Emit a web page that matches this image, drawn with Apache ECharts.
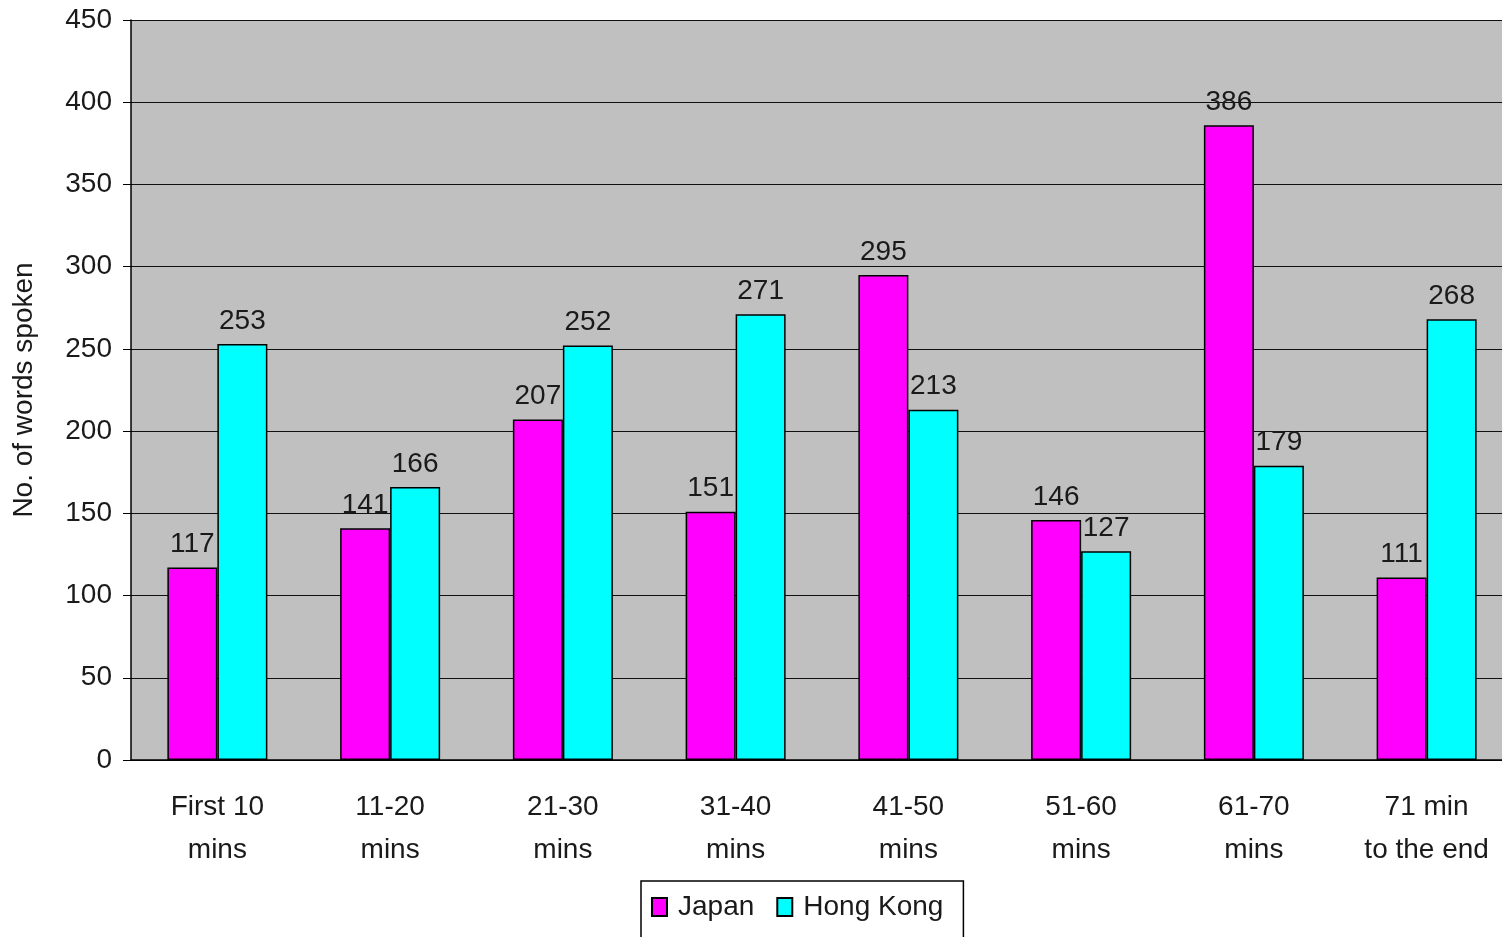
<!DOCTYPE html>
<html lang="en">
<head>
  <meta charset="UTF-8">
  <title>No. of words spoken</title>
  <style>
    body { margin: 0; background: #fff; }
    #main { width: 1502px; height: 937px; }
  </style>
</head>
<body>
<div id="main"></div>
<script src="https://cdn.jsdelivr.net/npm/echarts@6/dist/echarts.min.js"></script>
<script>
  // 类目与数据
  const categories = ['First 10\nmins', '11-20\nmins', '21-30\nmins', '31-40\nmins',
    '41-50\nmins', '51-60\nmins', '61-70\nmins', '71 min\nto the end'];
  const japan = [117, 141, 207, 151, 295, 146, 386, 111];
  const hongKong = [253, 166, 252, 271, 213, 127, 179, 268];

  const font = 'Liberation Sans, Arial, sans-serif';
  const chart = echarts.init(document.getElementById('main'));

  const barLabel = {
    show: true,
    position: 'top',
    distance: 9,
    color: '#1a1a1a',
    fontSize: 28,
    fontFamily: font
  };

  const option = {
    animation: false,
    grid: {
      left: 131,
      right: -11,
      top: 20,
      bottom: 177,
      outerBoundsMode: 'none',
      containLabel: false,
      show: true,
      backgroundColor: '#c0c0c0',
      borderWidth: 0
    },
    legend: {
      left: 641,
      top: 881,
      padding: [12, 20, 24, 10],
      borderColor: '#000',
      borderWidth: 1.5,
      itemWidth: 15,
      itemHeight: 18,
      itemGap: 22,
      icon: 'rect',
      textStyle: { fontSize: 28, color: '#1a1a1a', fontFamily: font, padding: [0, 0, 0, 6] },
      data: ['Japan', 'Hong Kong']
    },
    xAxis: {
      type: 'category',
      data: categories,
      axisLine: { lineStyle: { color: '#000', width: 1.5 } },
      axisTick: { length: 8, lineStyle: { color: '#000' } },
      axisLabel: {
        color: '#1a1a1a',
        fontSize: 28,
        fontFamily: font,
        lineHeight: 43,
        margin: 26
      }
    },
    yAxis: {
      type: 'value',
      min: 0,
      max: 450,
      interval: 50,
      name: 'No. of words spoken',
      nameLocation: 'middle',
      nameRotate: 90,
      nameGap: 93,
      nameTextStyle: { fontSize: 28, color: '#1a1a1a', fontFamily: font },
      axisLine: { show: true, lineStyle: { color: '#000', width: 1.5 } },
      axisTick: { show: true, length: 8, lineStyle: { color: '#000' } },
      axisLabel: { color: '#1a1a1a', fontSize: 28, fontFamily: font, margin: 19 },
      splitLine: { lineStyle: { color: '#111', width: 1.2 } }
    },
    series: [
      {
        name: 'Japan',
        type: 'bar',
        data: japan,
        barWidth: 50,
        barGap: '0%',
        itemStyle: { color: '#ff00ff', borderColor: '#000', borderWidth: 1.5 },
        label: barLabel
      },
      {
        name: 'Hong Kong',
        type: 'bar',
        data: hongKong,
        barWidth: 50,
        itemStyle: { color: '#00ffff', borderColor: '#000', borderWidth: 1.5 },
        label: barLabel
      }
    ]
  };

  chart.setOption(option);
</script>
</body>
</html>
